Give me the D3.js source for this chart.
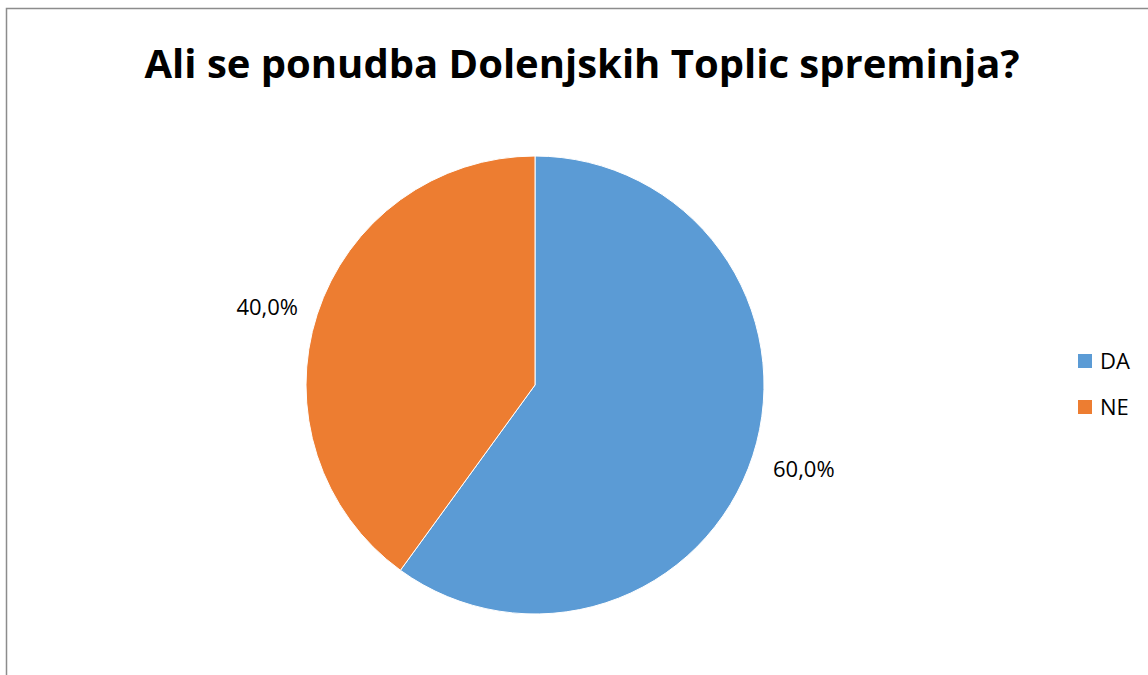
<!DOCTYPE html>
<html>
<head>
<meta charset="utf-8">
<script src="https://cdn.jsdelivr.net/npm/d3@7"></script>
<style>
  body { margin: 0; background: #fff; }
  text { font-family: "Open Sans", "Noto Sans", sans-serif; }
</style>
</head>
<body>
<div id="chart"></div>
<script>
const categories = ["DA", "NE"];
const values = [60.0, 40.0];
const colors = ["#5B9BD5", "#ED7D31"];

const width = 1148,
  height = 675;
const svg = d3
  .select("#chart")
  .append("svg")
  .attr("width", width)
  .attr("height", height);

// frame (only left and top visible)
svg.append("path")
  .attr("d", "M6.5,675 L6.5,8.5 L1148,8.5")
  .attr("fill", "none")
  .attr("stroke", "#8c8c8c")
  .attr("stroke-width", 1.5);

svg.append("text")
  .attr("x", 582)
  .attr("y", 78)
  .attr("text-anchor", "middle")
  .attr("font-size", 40)
  .attr("font-weight", "bold")
  .attr("fill", "#000")
  .attr("textLength", 875)
  .attr("lengthAdjust", "spacingAndGlyphs")
  .text("Ali se ponudba Dolenjskih Toplic spreminja?");

const cx = 535, cy = 385, r = 229;
const data = categories.map((c, i) => ({ name: c, value: values[i], color: colors[i] }));
const pie = d3.pie().value((d) => d.value).sort(null);
const arc = d3.arc().innerRadius(0).outerRadius(r);
const arcs = pie(data);

const g = svg.append("g").attr("transform", `translate(${cx},${cy})`);
g.selectAll("path")
  .data(arcs)
  .join("path")
  .attr("d", arc)
  .attr("fill", (d) => d.data.color)
  .attr("stroke", "#fff")
  .attr("stroke-width", 1);

// outside labels
const fmt = (v) => v.toFixed(1).replace(".", ",") + "%";
g.selectAll(".lbl")
  .data(arcs)
  .join("text")
  .attr("class", "lbl")
  .attr("font-size", 22)
  .attr("fill", "#000")
  .attr("text-anchor", (d) => ((d.startAngle + d.endAngle) / 2 < Math.PI ? "start" : "end"))
  .attr("x", (d) => {
    const mid = (d.startAngle + d.endAngle) / 2;
    return mid < Math.PI ? 238 : -237;
  })
  .attr("y", (d) => {
    const mid = (d.startAngle + d.endAngle) / 2;
    return mid < Math.PI ? 92 : -70;
  })
  .text((d) => fmt(d.data.value));

// legend
const legend = svg.append("g").attr("transform", "translate(1078,354)");
const item = legend.selectAll("g")
  .data(data)
  .join("g")
  .attr("transform", (d, i) => `translate(0,${i * 46})`);
item.append("rect")
  .attr("width", 14)
  .attr("height", 14)
  .attr("fill", (d) => d.color);
item.append("text")
  .attr("x", 22)
  .attr("y", 15)
  .attr("font-size", 22)
  .attr("fill", "#000")
  .text((d) => d.name);
</script>
</body>
</html>
